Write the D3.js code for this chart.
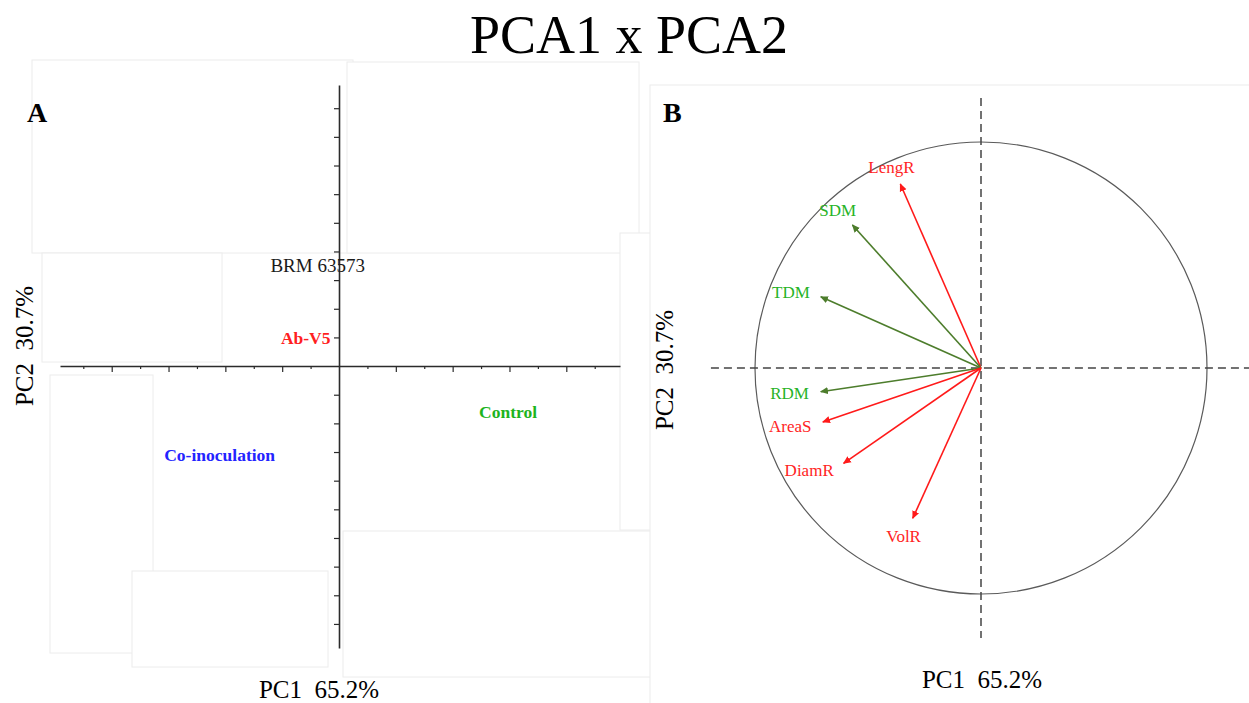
<!DOCTYPE html>
<html>
<head>
<meta charset="utf-8">
<script src="https://cdn.jsdelivr.net/npm/d3@7"></script>
<style>
html, body { margin: 0; padding: 0; background: #fff; }
svg { display: block; font-family: "Liberation Serif", "Times New Roman", serif; }
</style>
</head>
<body>
<svg id="chart" width="1249" height="703"></svg>
<script>
// Panel A: score plot, group labels placed at their PC1/PC2 scores
const groupNames = ['BRM 63573', 'Ab-V5', 'Co-inoculation', 'Control'];
const groupPC1 = [-0.75, -0.3, -4.2, 5.95];
const groupPC2 = [3.5, 1.0, -3.1, -1.6];

// axis ticks of panel A (no tick labels shown)
const tickValuesA = [-9, -8, -7, -6, -5, -4, -3, -2, -1, 1, 2, 3, 4, 5, 6, 7, 8, 9];

// Panel B: correlation circle, variable loadings
const varNames = ['LengR', 'SDM', 'TDM', 'RDM', 'AreaS', 'DiamR', 'VolR'];
const varPC1 = [-0.357, -0.569, -0.709, -0.709, -0.700, -0.608, -0.302];
const varPC2 = [0.814, 0.633, 0.315, -0.105, -0.239, -0.422, -0.665];
const varKind = ['root', 'shoot', 'shoot', 'shoot', 'root', 'root', 'root'];

const axisLabelX = 'PC1\u00a0 65.2%';
const axisLabelY = 'PC2\u00a0 30.7%';

const svg = d3.select('#chart');

// faint edges of the pasted image pieces
const pieces = [
    [32, 60, 321, 193], [347, 62, 292, 191], [620, 233, 32, 297],
    [42, 253, 180, 109], [50, 375, 103, 278], [132, 571, 196, 96],
    [343, 531, 309, 146], [650, 85, 610, 630]
];
svg.append('g').selectAll('rect').data(pieces).enter().append('rect')
    .attr('x', d => d[0]).attr('y', d => d[1])
    .attr('width', d => d[2]).attr('height', d => d[3])
    .attr('fill', '#fff').attr('stroke', '#ececec').attr('stroke-width', 1);

// title
svg.append('text')
    .attr('x', 629).attr('y', 53)
    .attr('text-anchor', 'middle')
    .attr('font-size', 54)
    .text('PCA1 x PCA2');

// ---------- Panel A ----------
const xA = d3.scaleLinear().domain([-9.82, 9.89]).range([60, 620]);
const yA = d3.scaleLinear().domain([-9.84, 9.81]).range([648, 85]);

const gA = svg.append('g');

gA.append('g')
    .attr('transform', `translate(0,${yA(0)})`)
    .call(d3.axisBottom(xA).tickValues(tickValuesA.filter(v => v % 2 !== 0))
        .tickSize(3).tickSizeOuter(0).tickFormat(''));
gA.append('g')
    .attr('transform', `translate(0,${yA(0)})`)
    .call(d3.axisBottom(xA).tickValues(tickValuesA.filter(v => v % 2 === 0))
        .tickSize(6).tickSizeOuter(0).tickFormat(''))
    .select('.domain').remove();
gA.append('g')
    .attr('transform', `translate(${xA(0)},0)`)
    .call(d3.axisLeft(yA).tickValues(tickValuesA).tickSize(5).tickSizeOuter(0).tickFormat(''));

gA.selectAll('.domain').attr('stroke', '#2b2b2b').attr('stroke-width', 1.6);
gA.selectAll('.tick line').attr('stroke', '#2b2b2b').attr('stroke-width', 1.2);

const groupColor = d3.scaleOrdinal(groupNames, ['#1a1a1a', '#ff1f1f', '#2323ff', '#1db41d']);
const groups = groupNames.map((n, i) => ({ name: n, pc1: groupPC1[i], pc2: groupPC2[i] }));

gA.selectAll('.group-label').data(groups).enter().append('text')
    .attr('class', 'group-label')
    .attr('x', d => xA(d.pc1))
    .attr('y', d => yA(d.pc2))
    .attr('dy', '0.35em')
    .attr('text-anchor', d => d.name === 'Ab-V5' ? 'end' : 'middle')
    .attr('font-size', d => d.name === 'BRM 63573' ? 19 : 17.5)
    .attr('font-weight', d => d.name === 'BRM 63573' ? 'normal' : 'bold')
    .attr('fill', d => groupColor(d.name))
    .text(d => d.name);

gA.append('text')
    .attr('x', 27).attr('y', 122)
    .attr('font-size', 28).attr('font-weight', 'bold')
    .text('A');

gA.append('text')
    .attr('x', 319).attr('y', 698)
    .attr('text-anchor', 'middle').attr('font-size', 25)
    .text(axisLabelX);
gA.append('text')
    .attr('transform', 'translate(33,346) rotate(-90)')
    .attr('text-anchor', 'middle').attr('font-size', 25)
    .text(axisLabelY);

// ---------- Panel B ----------
const xB = d3.scaleLinear().domain([-1, 1]).range([755, 1207]);
const yB = d3.scaleLinear().domain([-1, 1]).range([594, 142]);

const gB = svg.append('g');

gB.append('circle')
    .attr('cx', xB(0)).attr('cy', yB(0))
    .attr('r', xB(1) - xB(0))
    .attr('fill', 'none').attr('stroke', '#5a5a5a').attr('stroke-width', 1.2);

gB.append('line')
    .attr('x1', xB(-1.195)).attr('x2', xB(1.2))
    .attr('y1', yB(0)).attr('y2', yB(0));
gB.append('line')
    .attr('x1', xB(0)).attr('x2', xB(0))
    .attr('y1', yB(1.195)).attr('y2', yB(-1.195));
gB.selectAll('line')
    .attr('stroke', '#444').attr('stroke-width', 1.5).attr('stroke-dasharray', '8,5');

const arrowColor = { root: '#ff1a1a', shoot: '#4d7d2c' };
const labelColor = { root: '#ff2424', shoot: '#27b327' };

const defs = svg.append('defs');
Object.keys(arrowColor).forEach(k => {
    defs.append('marker')
        .attr('id', 'head-' + k)
        .attr('viewBox', '0 -5 10 10')
        .attr('refX', 9).attr('refY', 0)
        .attr('markerWidth', 8).attr('markerHeight', 8)
        .attr('markerUnits', 'userSpaceOnUse')
        .attr('orient', 'auto')
        .append('path')
        .attr('d', 'M0,-4.5L10,0L0,4.5Z')
        .attr('fill', arrowColor[k]);
});

const vars = varNames.map((n, i) => ({ name: n, pc1: varPC1[i], pc2: varPC2[i], kind: varKind[i] }));

gB.selectAll('.loading').data(vars).enter().append('line')
    .attr('class', 'loading')
    .attr('x1', xB(0)).attr('y1', yB(0))
    .attr('x2', d => xB(d.pc1)).attr('y2', d => yB(d.pc2))
    .attr('stroke', d => arrowColor[d.kind])
    .attr('stroke-width', 1.6)
    .attr('marker-end', d => `url(#head-${d.kind})`);

// label just past the arrow tip
gB.selectAll('.var-label').data(vars).enter().append('text')
    .attr('class', 'var-label')
    .each(function (d) {
        const tx = xB(d.pc1), ty = yB(d.pc2);
        const len = Math.hypot(tx - xB(0), ty - yB(0));
        const ux = (tx - xB(0)) / len, uy = (ty - yB(0)) / len;
        const side = Math.abs(ux) > 0.7;
        d3.select(this)
            .attr('x', tx + (side ? 12 : 22) * ux)
            .attr('y', ty + 12 * uy)
            .attr('text-anchor', side ? 'end' : 'middle')
            .attr('dy', side ? '0.35em' : (uy < 0 ? '0' : '0.75em'));
    })
    .attr('font-size', 17)
    .attr('fill', d => labelColor[d.kind])
    .text(d => d.name);

gB.append('text')
    .attr('x', 663).attr('y', 122)
    .attr('font-size', 28).attr('font-weight', 'bold')
    .text('B');

gB.append('text')
    .attr('x', 982).attr('y', 688)
    .attr('text-anchor', 'middle').attr('font-size', 25)
    .text(axisLabelX);
gB.append('text')
    .attr('transform', 'translate(673,370) rotate(-90)')
    .attr('text-anchor', 'middle').attr('font-size', 25)
    .text(axisLabelY);
</script>
</body>
</html>
